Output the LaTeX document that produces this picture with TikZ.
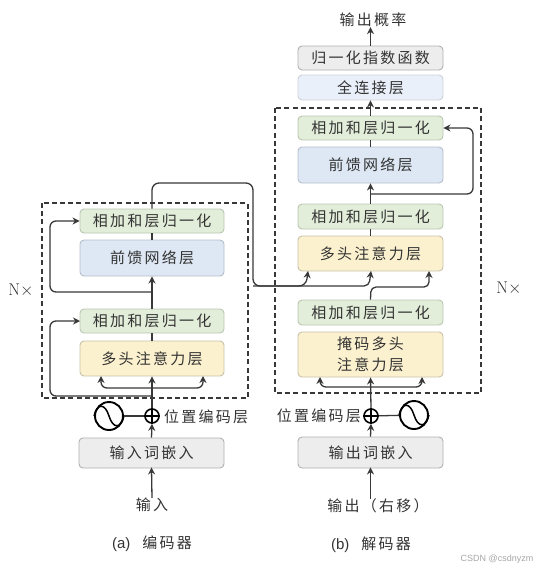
\documentclass[tikz,border=0pt]{standalone}
\usepackage{fontspec}
\usetikzlibrary{arrows.meta}
\newfontfamily\cjk[LetterSpace=15]{Noto Sans CJK SC}
\newfontfamily\latinsans{Liberation Sans}
\definecolor{ink}{HTML}{383838}
\definecolor{txt}{HTML}{333333}
\definecolor{greenf}{HTML}{E3EEDA}
\definecolor{greend}{HTML}{B9C6B2}
\definecolor{bluef}{HTML}{DEE8F4}
\definecolor{blued}{HTML}{B4BECA}
\definecolor{lbluef}{HTML}{E9F0F9}
\definecolor{yelf}{HTML}{FCF1CE}
\definecolor{yeld}{HTML}{C8C2AA}
\definecolor{grayf}{HTML}{EDEDED}
\definecolor{grayd}{HTML}{B0B0B0}
\tikzset{
  boxbase/.style={rounded corners=4pt,line width=0.9pt,inner sep=0pt,text=txt,font=\fontsize{15}{20.5}\selectfont\cjk,align=center},
  greenbox/.style={boxbase,fill=greenf,draw=greend},
  bluebox/.style={boxbase,fill=bluef,draw=blued},
  lbluebox/.style={boxbase,fill=lbluef,draw=blued!70},
  yelbox/.style={boxbase,fill=yelf,draw=yeld},
  graybox/.style={boxbase,fill=grayf,draw=grayd},
  label/.style={inner sep=0pt,text=txt,font=\fontsize{15}{18}\selectfont\cjk},
  dashbox/.style={draw=ink,line width=1.1pt,dash pattern=on 5pt off 3.2pt},
  conn/.style={draw=ink,line width=1.3pt},
  arr/.style={conn,-{Stealth[length=7pt,width=7pt]}},
  curved/.style={rounded corners=6pt},
  plus/.style={circle,draw=black,line width=1.6pt,minimum size=14pt,inner sep=0pt},
  wave/.style={circle,draw=black,line width=1.9pt,minimum size=28pt,inner sep=0pt},
  nlabel/.style={inner sep=0pt,text=txt,font=\fontsize{17}{20}\selectfont},
}
\newcommand{\bx}[7]{\node[#2,minimum width={(#5-#3)*1pt},minimum height={(#6-#4)*1pt}] (#1) at ({(#3+#5)/2},{(#4+#6)/2}) {#7};}
\newcommand{\oplusmark}[1]{\draw[draw=black,line width=1.4pt] (#1.north)--(#1.south) (#1.west)--(#1.east);}
\newcommand{\sinemark}[1]{\draw[draw=black,line width=1.5pt] (#1.west) .. controls +(3,-13) and +(-4,-13) .. (#1.center) .. controls +(4,13) and +(-3,13) .. (#1.east);}
\begin{document}
\begin{tikzpicture}[x=1pt,y=-1pt]
\useasboundingbox (0,0) rectangle (537,571);
% dashed groups
\draw[dashbox] (42,203) rectangle (248,398);
\draw[dashbox] (275,108) rectangle (481,393);
% encoder boxes
\bx{eadd2}{greenbox}{80}{209}{224}{233}{相加和层归一化}
\bx{effn}{bluebox}{80}{240}{224}{276}{前馈网络层}
\bx{eadd1}{greenbox}{80}{309}{224}{333}{相加和层归一化}
\bx{eatt}{yelbox}{80}{341}{224}{376}{多头注意力层}
\bx{eemb}{graybox}{79}{438}{224}{468}{输入词嵌入}
\node[plus] (eplus) at (152,416) {};
\node[wave] (ewave) at (109,416) {};
\node[label] (einp) at (152,505) {输入};
\node[label,anchor=west] (eplab) at (164,417) {位置编码层};
\node[label] (ecap) at (152,544) {{\latinsans (a)}\hspace{12pt}编码器};
\node[nlabel] (nl) at (21,290) {N$\times$};
% decoder boxes
\bx{dsoft}{graybox}{298}{46}{443}{70}{归一化指数函数}
\bx{dfc}{lbluebox}{298}{75}{443}{100}{全连接层}
\bx{dadd3}{greenbox}{298}{116}{443}{140}{相加和层归一化}
\bx{dffn}{bluebox}{298}{147}{443}{183}{前馈网络层}
\bx{dadd2}{greenbox}{298}{204}{443}{229}{相加和层归一化}
\bx{datt}{yelbox}{298}{236}{443}{271}{多头注意力层}
\bx{dadd1}{greenbox}{298}{300}{443}{325}{相加和层归一化}
\bx{dmask}{yelbox}{298}{332}{443}{377}{掩码多头\\注意力层}
\bx{demb}{graybox}{298}{437}{443}{468}{输出词嵌入}
\node[plus] (dplus) at (371,416) {};
\node[wave] (dwave) at (414,415) {};
\node[label] (dinp) at (378,506) {输出（右移）};
\node[label,anchor=east] (dplab) at (361,416) {位置编码层};
\node[label] (dcap) at (371,545) {{\latinsans (b)}\hspace{12pt}解码器};
\node[label] (dout) at (373,20) {输出概率};
\node[nlabel] (nr) at (509,288) {N$\times$};
\node[inner sep=0pt,text=gray!70,font=\fontsize{9}{11}\selectfont\latinsans] (wm) at (497,559) {CSDN @csdnyzm};
% free-end coordinates
\coordinate (eb1) at (152,388);
\coordinate (eb2) at (152,396);
\coordinate (eb3) at (152,292);
\coordinate (eal) at (101,376);
\coordinate (ear) at (203,376);
\coordinate (ein1) at (80,321);
\coordinate (etop) at (253,183);
\coordinate (ecross) at (253,286);
\coordinate (db1) at (371,387);
\coordinate (dbl) at (320,377);
\coordinate (dbr) at (422,377);
\coordinate (db3) at (371,194);
\coordinate (dj1) at (308,271);
\coordinate (dj2) at (371,271);
\coordinate (dj3) at (429,271);
% encoder connectors
\sinemark{ewave}
\oplusmark{eplus}
\draw[conn] (ewave) -- (eplus);
\draw[arr,shorten >=-1pt] (einp.north) -- (eemb.south);
\draw[arr] (eemb.north) -- (eplus.south);
\draw[arr] (eplus.north) -- (eatt.south);
\draw[conn] (eatt.north) -- (eadd1.south);
\draw[arr] (eadd1.north) -- (effn.south);
\draw[conn] (effn.north) -- (eadd2.south);
\draw[arr,curved] (eb1) -| (eal);
\draw[arr,curved] (eb1) -| (ear);
\draw[arr,curved] (eb2) -- (50,396) |- (ein1);
\draw[arr,curved] (eb3) -- (50,292) |- (eadd2.west);
\draw[arr,rounded corners=7pt] (eadd2.north) |- (etop) |- (306,286) -- (dj1);
\draw[arr,rounded corners=5pt] (ecross) -- (369,286) -- (dj2);
% decoder connectors
\sinemark{dwave}
\oplusmark{dplus}
\draw[conn] (dwave) -- (dplus);
\draw[arr,shorten >=-1pt] (dinp.north -| demb.south) -- (demb.south);
\draw[arr] (demb.north) -- (dplus.south);
\draw[arr] (dplus.north) -- (dmask.south);
\draw[arr,curved] (db1) -| (dbl);
\draw[arr,curved] (db1) -| (dbr);
\draw[arr,rounded corners=5pt] (dadd1.north) -- (371,287) -- (429,287) -- (dj3);
\draw[conn] (datt.north) -- (dadd2.south);
\draw[arr] (dadd2.north) -- (dffn.south);
\draw[arr,curved] (db3) -- (473,194) |- (dadd3.east);
\draw[conn] (dffn.north) -- (dadd3.south);
\draw[arr] (dadd3.north) -- (dfc.south);
\draw[arr] (dsoft.north) -- (dout.south -| dsoft.north);
\end{tikzpicture}
\end{document}
